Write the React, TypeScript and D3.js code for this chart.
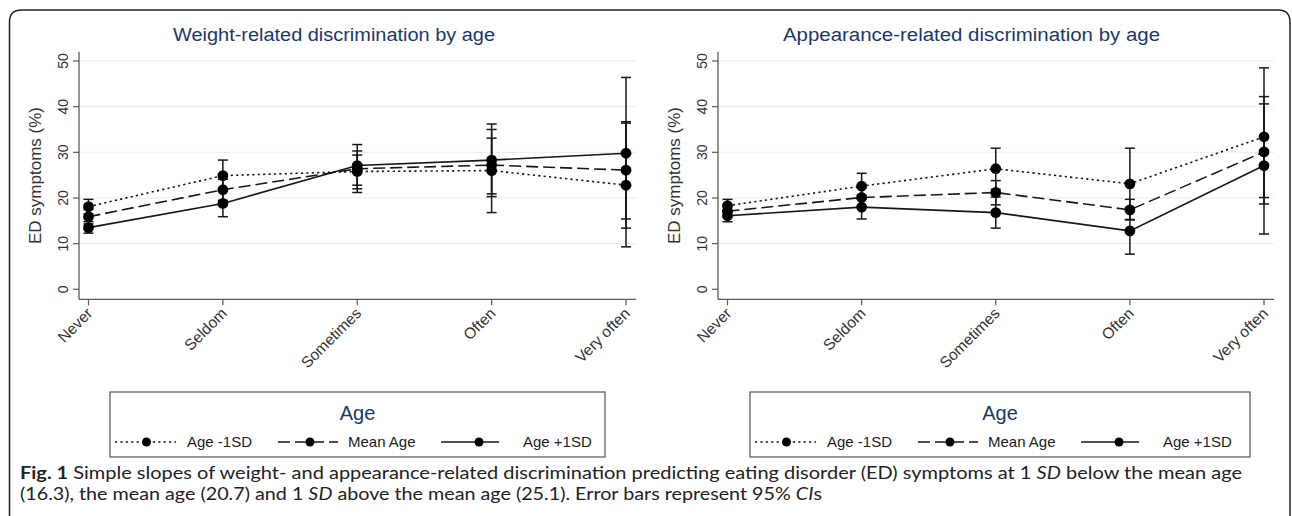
import React from "react";
import * as d3 from "d3";

// ---------- data ----------
const categories = ["Never", "Seldom", "Sometimes", "Often", "Very often"];
const yTicks = [0, 10, 20, 30, 40, 50];
const gridTicks = [10, 20, 30, 40, 50];
const seriesNames = ["Age -1SD", "Mean Age", "Age +1SD"];

// Weight-related discrimination
const weightMinus = [18.1, 24.9, 25.8, 26.0, 22.8];
const weightMinusLo = [16.5, 21.5, 21.2, 16.8, 9.3];
const weightMinusHi = [19.7, 28.3, 29.4, 35.0, 36.4];
const weightMean = [15.9, 21.8, 26.4, 27.2, 26.1];
const weightMeanLo = [14.3, 19.5, 22.0, 20.9, 15.4];
const weightMeanHi = [17.5, 24.1, 30.3, 33.1, 36.7];
const weightPlus = [13.5, 18.8, 27.1, 28.3, 29.8];
const weightPlusLo = [12.3, 15.9, 22.8, 20.3, 13.4];
const weightPlusHi = [14.8, 21.7, 31.7, 36.2, 46.4];

// Appearance-related discrimination
const appMinus = [18.3, 22.6, 26.4, 23.1, 33.4];
const appMinusLo = [16.8, 19.8, 21.9, 15.3, 18.7];
const appMinusHi = [19.7, 25.4, 30.9, 30.9, 48.5];
const appMean = [17.1, 20.1, 21.2, 17.4, 30.1];
const appMeanLo = [15.8, 18.0, 18.5, 15.2, 20.1];
const appMeanHi = [18.4, 22.2, 23.8, 19.7, 40.6];
const appPlus = [16.1, 18.0, 16.8, 12.8, 27.1];
const appPlusLo = [14.8, 15.4, 13.4, 7.7, 12.1];
const appPlusHi = [17.4, 20.6, 20.2, 17.9, 42.2];

const panelTitles = [
  "Weight-related discrimination by age",
  "Appearance-related discrimination by age",
];

// ---------- styles ----------
const W = 1292;
const H = 516;
const FONT = "'Liberation Sans', Arial, Helvetica, sans-serif";
const NAVY = "#1b3868";
const INK = "#161616";
const GRID = "#e4edf3";
const AXIS = "#5a5a5a";
const dashes = ["2.2,3.2", "12,5", ""];

type Series = { name: string; v: number[]; lo: number[]; hi: number[]; dash: string };

const weightSeries: Series[] = [
  { name: seriesNames[0], v: weightMinus, lo: weightMinusLo, hi: weightMinusHi, dash: dashes[0] },
  { name: seriesNames[1], v: weightMean, lo: weightMeanLo, hi: weightMeanHi, dash: dashes[1] },
  { name: seriesNames[2], v: weightPlus, lo: weightPlusLo, hi: weightPlusHi, dash: dashes[2] },
];
const appSeries: Series[] = [
  { name: seriesNames[0], v: appMinus, lo: appMinusLo, hi: appMinusHi, dash: dashes[0] },
  { name: seriesNames[1], v: appMean, lo: appMeanLo, hi: appMeanHi, dash: dashes[1] },
  { name: seriesNames[2], v: appPlus, lo: appPlusLo, hi: appPlusHi, dash: dashes[2] },
];

type PanelProps = {
  title: string;
  titleLen: number;
  series: Series[];
  plotL: number;
  plotR: number;
  titleCx: number;
  legendL: number;
  legendW: number;
};

const axisTop = 51.7;
const axisY = 299.3;

function Panel({ title, titleLen, series, plotL, plotR, titleCx, legendL, legendW }: PanelProps) {
  const y = d3.scaleLinear().domain([0, 50]).range([289.3, 61]);
  const x = d3.scalePoint<string>().domain(categories).range([plotL + 9.5, plotR - 10]);
  const line = d3
    .line<number>()
    .x((_, i) => x(categories[i]) as number)
    .y((d) => y(d));
  const capW = 5;

  const legTop = 392;
  const legH = 65;
  const itemY = legTop + 55;
  const items = [
    { s0: 5, s1: 66, dot: 36.5, tx: 77, dash: dashes[0] },
    { s0: 168, s1: 228, dot: 200, tx: 238, dash: dashes[1] },
    { s0: 331, s1: 389, dot: 369, tx: 413, dash: dashes[2] },
  ];

  return (
    <g>
      <text
        x={titleCx - titleLen / 2}
        y={41}
        fontFamily={FONT}
        fontSize={18}
        fill={NAVY}
        textLength={titleLen}
        lengthAdjust="spacingAndGlyphs"
      >
        {title}
      </text>
      {/* grid */}
      {gridTicks.map((t) => (
        <line key={t} x1={plotL} x2={plotR} y1={y(t)} y2={y(t)} stroke={GRID} strokeWidth={1} />
      ))}
      {/* y axis */}
      <line x1={plotL} x2={plotL} y1={axisTop} y2={axisY} stroke={AXIS} strokeWidth={1.3} />
      {yTicks.map((t) => (
        <g key={t}>
          <line x1={plotL - 6} x2={plotL} y1={y(t)} y2={y(t)} stroke={AXIS} strokeWidth={1.2} />
          <text
            transform={`translate(${plotL - 11},${y(t)}) rotate(-90)`}
            textAnchor="middle"
            fontFamily={FONT}
            fontSize={14}
            fill="#333"
          >
            {t}
          </text>
        </g>
      ))}
      <text
        transform={`translate(${plotL - 38},${175.5}) rotate(-90)`}
        textAnchor="middle"
        fontFamily={FONT}
        fontSize={17}
        fill="#333"
      >
        ED symptoms (%)
      </text>
      {/* x axis */}
      <line x1={plotL} x2={plotR} y1={axisY} y2={axisY} stroke={AXIS} strokeWidth={1.3} />
      {categories.map((c) => (
        <g key={c}>
          <line x1={x(c)} x2={x(c)} y1={axisY} y2={axisY + 6} stroke={AXIS} strokeWidth={1.2} />
          <text
            transform={`translate(${(x(c) as number) + 5},${axisY + 15}) rotate(-45)`}
            textAnchor="end"
            fontFamily={FONT}
            fontSize={15.5}
            fill="#333"
          >
            {c}
          </text>
        </g>
      ))}
      {/* error bars */}
      {series.map((s) =>
        categories.map((c, i) => {
          const cx = x(c) as number;
          return (
            <g key={s.name + c} stroke={INK} strokeWidth={1.5}>
              <line x1={cx} x2={cx} y1={y(s.lo[i])} y2={y(s.hi[i])} />
              <line x1={cx - capW} x2={cx + capW} y1={y(s.lo[i])} y2={y(s.lo[i])} />
              <line x1={cx - capW} x2={cx + capW} y1={y(s.hi[i])} y2={y(s.hi[i])} />
            </g>
          );
        })
      )}
      {/* lines */}
      {series.map((s) => (
        <path
          key={s.name}
          d={line(s.v) as string}
          fill="none"
          stroke={INK}
          strokeWidth={1.6}
          strokeDasharray={s.dash || undefined}
        />
      ))}
      {/* markers */}
      {series.map((s) =>
        s.v.map((v, i) => (
          <circle key={s.name + i} cx={x(categories[i])} cy={y(v)} r={5.4} fill="#000" />
        ))
      )}
      {/* legend */}
      <rect x={legendL} y={legTop} width={legendW} height={legH} fill="#fff" stroke="#555" strokeWidth={1.2} />
      <text
        x={legendL + legendW / 2}
        y={legTop + 28}
        textAnchor="middle"
        fontFamily={FONT}
        fontSize={20}
        fill={NAVY}
      >
        Age
      </text>
      {items.map((it, k) => (
        <g key={k}>
          <line
            x1={legendL + it.s0}
            x2={legendL + it.s1}
            y1={itemY - 5}
            y2={itemY - 5}
            stroke={INK}
            strokeWidth={1.4}
            strokeDasharray={it.dash || undefined}
          />
          <circle cx={legendL + it.dot} cy={itemY - 5} r={4.5} fill="#000" />
          <text x={legendL + it.tx} y={itemY} fontFamily={FONT} fontSize={15} fill="#222">
            {seriesNames[k]}
          </text>
        </g>
      ))}
    </g>
  );
}

export default function App() {
  const CAP = "Lato, 'Open Sans', sans-serif";
  return (
    <svg
      width={W}
      height={H}
      viewBox={`0 0 ${W} ${H}`}
      style={{ position: "absolute", left: 0, top: 0, background: "#fff" }}
    >
      <rect x={0} y={0} width={W} height={H} fill="#fff" />
      <path
        d={`M9.5,${H} L9.5,22 Q9.5,10 21.5,10 L1278,10 Q1290,10 1290,22 L1290,${H}`}
        fill="none"
        stroke="#222"
        strokeWidth={1.5}
      />
      <Panel
        title={panelTitles[0]}
        titleLen={322}
        series={weightSeries}
        plotL={79}
        plotR={636}
        titleCx={334}
        legendL={110}
        legendW={495}
      />
      <Panel
        title={panelTitles[1]}
        titleLen={377}
        series={appSeries}
        plotL={718}
        plotR={1274}
        titleCx={971.5}
        legendL={750}
        legendW={500}
      />
      <text x={20} y={479} fontFamily={CAP} fontSize={16.5} fill="#222" textLength={1222} lengthAdjust="spacingAndGlyphs">
        <tspan fontWeight="bold">Fig. 1</tspan>
        <tspan> Simple slopes of weight- and appearance-related discrimination predicting eating disorder (ED) symptoms at 1 </tspan>
        <tspan fontStyle="italic">SD</tspan>
        <tspan> below the mean age</tspan>
      </text>
      <text x={20} y={500} fontFamily={CAP} fontSize={16.5} fill="#222" textLength={802} lengthAdjust="spacingAndGlyphs">
        <tspan>(16.3), the mean age (20.7) and 1 </tspan>
        <tspan fontStyle="italic">SD</tspan>
        <tspan> above the mean age (25.1). Error bars represent 95% </tspan>
        <tspan fontStyle="italic">CI</tspan>
        <tspan>s</tspan>
      </text>
    </svg>
  );
}
